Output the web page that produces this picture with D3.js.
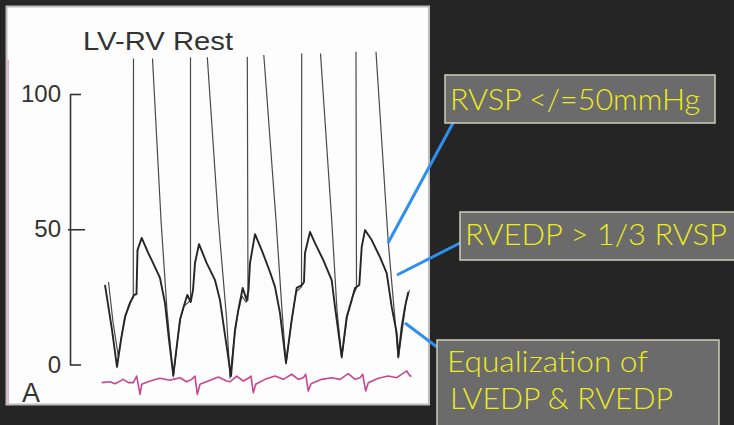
<!DOCTYPE html>
<html>
<head>
<meta charset="utf-8">
<script src="https://cdn.jsdelivr.net/npm/d3@7/dist/d3.min.js"></script>
<style>
  html, body { margin: 0; padding: 0; background: #252525; }
  svg { display: block; }
</style>
</head>
<body>
<svg id="chart" width="734" height="425"></svg>
<script>
// ---------- DATA ----------
const chartTitle = "LV-RV Rest";
const panelLabel = "A";
const pressureTicks = [0, 50, 100];

// RV pressure tracing (time s, mmHg)
const rvTime = [0.05,0.12,0.17,0.21,0.25,0.30,0.34,0.365,0.375,0.417,0.483,0.55,0.60,0.65,0.69,0.733,0.767,0.80,0.833,0.873,0.907,0.93,0.95,0.99,1.067,1.15,1.20,1.25,1.31,1.35,1.383,1.427,1.467,1.485,1.50,1.55,1.617,1.70,1.75,1.80,1.86,1.917,1.967,2.02,2.04,2.05,2.10,2.15,2.233,2.317,2.35,2.417,2.467,2.517,2.55,2.593,2.617,2.65,2.717,2.80,2.867,2.917,2.967,2.983,3.017,3.05,3.083];
const rvPressure = [29.4,12.8,-0.9,9.1,17.6,22.7,25.7,26.0,42.3,46.8,41.2,36.0,32.0,22.7,9.1,-3.9,6.5,16.5,20.9,25.7,23.1,27.5,37.5,44.5,37.5,31.2,23.8,10.9,-4.3,12.8,20.1,28.3,23.8,27.5,37.5,48.2,42.3,34.2,28.7,19.0,0.6,16.5,28.3,29.4,30.5,41.2,49.0,44.9,38.6,31.2,21.3,2.8,17.6,23.8,28.3,29.4,43.4,49.7,46.0,39.7,33.8,21.3,11.6,2.8,13.9,21.3,26.8];

// LV pressure tracing (time s, mmHg); null = off-scale peak (pen leaves the paper)
const lvTime = [0.085,0.13,0.183,0.22,0.26,0.30,0.333,0.335,null,0.525,0.61,0.67,0.733,0.77,0.805,0.84,0.875,0.905,0.905,null,1.073,1.183,1.267,1.30,1.34,1.38,1.42,1.46,1.48,1.473,null,1.638,1.76,1.82,1.86,1.91,1.96,2.015,2.017,null,2.205,2.317,2.37,2.417,2.47,2.52,2.565,2.56,null,2.76,2.883,2.933,2.983,3.02,3.06,3.095];
const lvPressure = [30.5,15.7,3.1,11.6,18.7,23.1,25.0,113.1,null,113.1,53.4,20.1,-4.6,7.2,17.2,21.6,22.7,23.8,113.6,null,113.6,53.4,16.5,-5.0,9.1,19.4,25.3,23.1,23.8,113.8,null,114.4,53.4,20.1,0.2,14.6,26.8,28.7,115.0,null,115.0,53.4,20.1,2.4,17.2,24.6,28.3,115.6,null,115.6,44.9,23.8,2.4,12.0,23.1,27.5];

// ECG strip (time s, mV)
const ecgTime = [0.017,0.10,0.15,0.233,0.283,0.333,0.367,0.40,0.417,0.50,0.60,0.70,0.733,0.80,0.867,0.917,0.95,0.973,1.00,1.083,1.183,1.267,1.30,1.367,1.433,1.483,1.51,1.533,1.557,1.65,1.75,1.833,1.917,1.983,2.033,2.057,2.083,2.11,2.217,2.317,2.40,2.483,2.55,2.60,2.627,2.657,2.683,2.783,2.883,2.967,3.067,3.10,3.117];
const ecgValue = [-0.11,-0.05,-0.18,0.11,-0.11,-0.11,0.33,-0.89,-0.22,0,0.18,0.05,0.11,0.22,-0.05,0.11,0.33,-0.89,-0.22,0,0.27,0,-0.05,0.33,0,0.18,0.33,-0.78,-0.22,0.11,0.33,0.11,0.45,0.11,0.22,0.45,-0.67,-0.18,0.11,0.22,0.11,0.49,0.11,0.22,0.45,-0.67,-0.11,0.18,0.33,0.22,0.67,0.33,0.33];

// Annotations
const noteLines = [
  ["RVSP </=50mmHg"],
  ["RVEDP > 1/3 RVSP"],
  ["Equalization of", "LVEDP & RVEDP"]
];

// ---------- DRAW ----------
const svg = d3.select("#chart");

svg.append("rect").attr("width", 734).attr("height", 425).attr("fill", "#252525");

svg.append("rect").attr("x", 6.5).attr("y", 6.5).attr("width", 422.5).attr("height", 398)
  .attr("fill", "#fdfdfd").attr("stroke", "#bdbdbd").attr("stroke-width", 2);
svg.append("line").attr("x1", 8.2).attr("x2", 8.2).attr("y1", 60).attr("y2", 404)
  .attr("stroke", "#e2a6cf").attr("stroke-width", 1.4);

const x = d3.scaleLinear().domain([0, 3.2]).range([100, 420]);
const y = d3.scaleLinear().domain([0, 100]).range([364.5, 94]);
const ecgY = d3.scaleLinear().domain([-1, 1]).range([396, 366]);

const axis = d3.axisLeft(y).tickValues(pressureTicks).tickSizeInner(-11).tickSizeOuter(0).tickPadding(9);
const gAxis = svg.append("g").attr("transform", "translate(70,0)").call(axis);
gAxis.select(".domain").attr("stroke", "#333").attr("stroke-width", 1.6);
gAxis.selectAll(".tick line").attr("stroke", "#333").attr("stroke-width", 1.6)
  .attr("x1", d => d === 50 ? -2 : 0).attr("x2", d => d === 50 ? 15 : 11);
gAxis.selectAll(".tick text").attr("fill", "#333")
  .style("font-family", "'Liberation Sans', Arial, sans-serif").style("font-size", "24px");

svg.append("text").attr("x", 83).attr("y", 50).text(chartTitle)
  .attr("textLength", 150).attr("lengthAdjust", "spacingAndGlyphs")
  .attr("fill", "#333").style("font-family", "'Liberation Sans', Arial, sans-serif").style("font-size", "25px");

svg.append("text").attr("x", 22).attr("y", 402).text(panelLabel)
  .attr("fill", "#333").style("font-family", "'Liberation Sans', Arial, sans-serif").style("font-size", "27px");

// ECG
const ecgLine = d3.line().x((d, i) => x(ecgTime[i])).y((d, i) => ecgY(ecgValue[i]));
svg.append("path").datum(ecgTime).attr("d", ecgLine)
  .attr("fill", "none").attr("stroke", "#c8468f").attr("stroke-width", 1.6).attr("stroke-linejoin", "round");

// LV
const lvLine = d3.line().defined((d, i) => lvTime[i] !== null)
  .x((d, i) => x(lvTime[i])).y((d, i) => y(lvPressure[i]));
svg.append("path").datum(lvTime).attr("d", lvLine)
  .attr("fill", "none").attr("stroke", "#4a4a4a").attr("stroke-width", 1.2).attr("stroke-linejoin", "round");

// RV
const rvLine = d3.line().x((d, i) => x(rvTime[i])).y((d, i) => y(rvPressure[i]));
svg.append("path").datum(rvTime).attr("d", rvLine)
  .attr("fill", "none").attr("stroke", "#262626").attr("stroke-width", 1.9).attr("stroke-linejoin", "round");

// annotation boxes
const boxes = [
  {x: 445, y: 75, w: 270, h: 48, tx: [450], ty: [110], tl: [250]},
  {x: 460, y: 212, w: 290, h: 48, tx: [465], ty: [245], tl: [262]},
  {x: 437, y: 340, w: 282, h: 100, tx: [447, 450], ty: [372, 409], tl: [201, 223]}
];
const pointers = [
  {x1: 453, y1: 123, x2: 388, y2: 243},
  {x1: 460, y1: 243, x2: 397, y2: 275},
  {x1: 437, y1: 347, x2: 405, y2: 323}
];
svg.selectAll("line.ptr").data(pointers).join("line").attr("class", "ptr")
  .attr("x1", d => d.x1).attr("y1", d => d.y1).attr("x2", d => d.x2).attr("y2", d => d.y2)
  .attr("stroke", "#2f8ff0").attr("stroke-width", 3);

boxes.forEach((b, k) => {
  svg.append("rect").attr("x", b.x).attr("y", b.y).attr("width", b.w).attr("height", b.h)
    .attr("fill", "#6b6b6b").attr("stroke", "#cfcfb8").attr("stroke-width", 1.5);
  noteLines[k].forEach((t, j) => {
    svg.append("text").attr("x", b.tx[j]).attr("y", b.ty[j]).text(t)
      .attr("textLength", b.tl[j]).attr("lengthAdjust", "spacingAndGlyphs")
      .attr("fill", "#ecec1e")
      .style("font-family", "Lato, 'Open Sans', sans-serif").style("font-weight", "300")
      .style("font-size", "29px");
  });
});
</script>
</body>
</html>
